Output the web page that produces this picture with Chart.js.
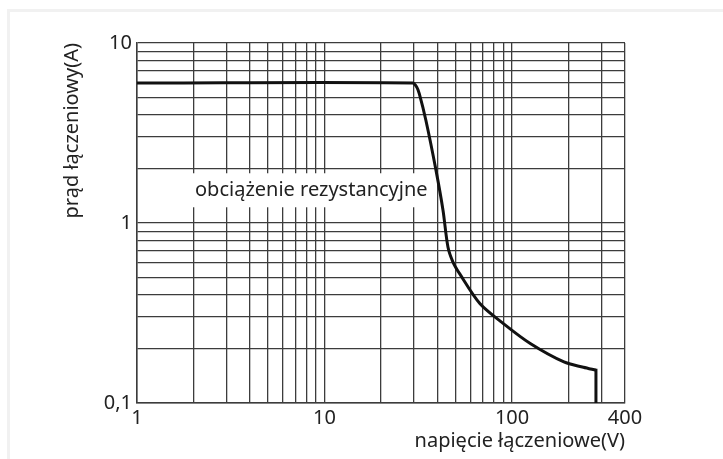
<!DOCTYPE html>
<html>
<head>
<meta charset="utf-8">
<script src="https://cdn.jsdelivr.net/npm/chart.js@4.4.1/dist/chart.umd.min.js"></script>
<style>
    html, body { margin: 0; padding: 0; background: #fff; }
    #wrap { position: relative; width: 723px; height: 459px; }
    #frame {
        position: absolute; left: 7px; top: 9px; right: 0; bottom: 0;
        border-left: 3px solid #f1f1f1; border-top: 3px solid #f1f1f1;
    }
    #chart { position: absolute; left: 0; top: 0; }
</style>
</head>
<body>
<div id="wrap">
    <div id="frame"></div>
    <canvas id="chart" width="723" height="459"></canvas>
</div>
<script>
// switching voltage (V) and switching current (A)
const voltage = [1, 29.5, 31, 32, 34.7, 39.3, 42.8, 45.5, 48.4, 52.5, 67.3, 89.9, 125, 189, 240, 280]
const current = [6, 6, 5.7, 5.23, 3.72, 1.96, 1.18, 0.736, 0.607, 0.523, 0.357, 0.276, 0.214, 0.169, 0.158, 0.152]
// the curve stops with a straight drop to the bottom of the grid
const dropVoltage = [280, 280]
const dropCurrent = [0.152, 0.1]

const xGridValues = [1, 2, 3, 4, 5, 6, 7, 8, 9, 10, 20, 30, 40, 50, 60, 70, 80, 90, 100, 200, 300, 400]
const yGridValues = [0.1, 0.2, 0.3, 0.4, 0.5, 0.6, 0.7, 0.8, 0.9, 1, 2, 3, 4, 5, 6, 7, 8, 9, 10]

const xTickValues = [1, 10, 100, 400]
const xTickLabels = ["1", "10", "100", "400"]
const yTickValues = [0.1, 1, 10]
const yTickLabels = ["0,1", "1", "10"]

const curveLabel = "obciążenie rezystancyjne"
const curveLabelAt = { x: 8.5, y: 1.52 }

const fontFamily = "'Noto Sans', sans-serif"
const fontSize = 20
const fontColor = "#222"
const gridColor = "#3c3c3c"

function pickLabel(value, values, labels) {
    for (let i = 0; i < values.length; i++) {
        if (Math.abs(value - values[i]) < values[i] * 1e-6) return labels[i]
    }
    return ""
}

const labelBox = {
    id: "labelBox",
    beforeDatasetsDraw(chart) {
        const ctx = chart.ctx
        const cx = chart.scales.x.getPixelForValue(curveLabelAt.x)
        const cy = chart.scales.y.getPixelForValue(curveLabelAt.y)
        ctx.save()
        ctx.font = fontSize + "px " + fontFamily
        const w = ctx.measureText(curveLabel).width
        ctx.fillStyle = "#fff"
        ctx.fillRect(cx - w / 2 - 6, cy - 17, w + 12, 34)
        ctx.fillStyle = fontColor
        ctx.textAlign = "center"
        ctx.textBaseline = "middle"
        ctx.fillText(curveLabel, cx, cy)
        ctx.restore()
    }
}

const chartCtx = document.getElementById("chart").getContext("2d")

window.loadChart = new Chart(chartCtx, {
    type: "line",
    data: {
        datasets: [
            {
                data: voltage.map((v, i) => ({ x: v, y: current[i] })),
                borderColor: "#111",
                borderWidth: 3,
                pointRadius: 0,
                tension: 0.3,
                fill: false
            },
            {
                data: dropVoltage.map((v, i) => ({ x: v, y: dropCurrent[i] })),
                borderColor: "#111",
                borderWidth: 3,
                borderCapStyle: "square",
                pointRadius: 0,
                tension: 0,
                fill: false
            }
        ]
    },
    options: {
        responsive: false,
        animation: false,
        layout: { padding: { top: 43, right: 98, left: 0, bottom: 0 } },
        plugins: {
            legend: { display: false },
            tooltip: { enabled: false }
        },
        scales: {
            x: {
                type: "logarithmic",
                min: 1,
                max: 400,
                afterFit: s => { s.height = 56 },
                afterBuildTicks: s => { s.ticks = xGridValues.map(v => ({ value: v })) },
                grid: { color: gridColor, lineWidth: 1.3, drawTicks: false },
                border: { color: gridColor, width: 1.5 },
                ticks: {
                    autoSkip: false,
                    maxRotation: 0,
                    padding: 3,
                    color: fontColor,
                    font: { family: fontFamily, size: fontSize },
                    callback: v => pickLabel(v, xTickValues, xTickLabels)
                },
                title: {
                    display: true,
                    text: "napięcie łączeniowe(V)",
                    align: "end",
                    color: fontColor,
                    font: { family: fontFamily, size: fontSize },
                    padding: { top: 0, bottom: 6 }
                }
            },
            y: {
                type: "logarithmic",
                min: 0.1,
                max: 10,
                afterFit: s => { s.width = 137 },
                afterBuildTicks: s => { s.ticks = yGridValues.map(v => ({ value: v })) },
                grid: { color: gridColor, lineWidth: 1.3, drawTicks: false },
                border: { color: gridColor, width: 1.5 },
                ticks: {
                    autoSkip: false,
                    padding: 5,
                    color: fontColor,
                    font: { family: fontFamily, size: fontSize },
                    callback: v => pickLabel(v, yTickValues, yTickLabels)
                },
                title: {
                    display: true,
                    text: "prąd łączeniowy(A)",
                    align: "end",
                    color: fontColor,
                    font: { family: fontFamily, size: fontSize },
                    padding: { top: 60, bottom: 0 }
                }
            }
        }
    },
    plugins: [labelBox]
})
</script>
</body>
</html>
